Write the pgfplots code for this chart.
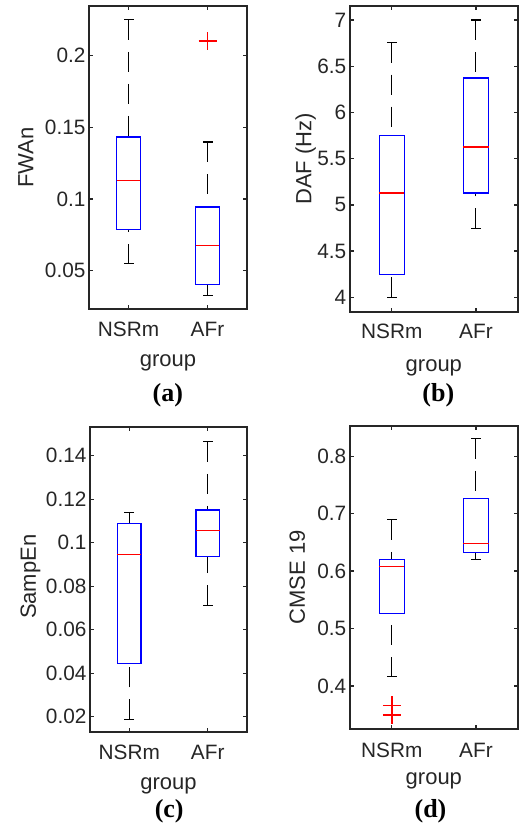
\documentclass[border=0pt]{standalone}
\usepackage{fontspec}
\setmainfont{Liberation Sans}
\newfontfamily\capfont{Liberation Serif}
\usepackage{pgfplots}
\usepgfplotslibrary{statistics}
\pgfplotsset{compat=1.18}
\definecolor{axgray}{RGB}{38,38,38}

% whiskers: dashed line starting at the box (caps are added as marks)
\pgfplotsset{
  boxplot/draw/whisker/.code 2 args={
    \draw[black, line width=1.1pt, dash pattern=on 20pt off 12pt]
      (boxplot cs:#2) -- (boxplot cs:#1);
  },
}

\pgfplotsset{
  mlbox/.style={
    scale only axis,
    xmin=0.5, xmax=2.5,
    xtick={1,2}, xticklabels={NSRm,AFr},
    tick align=inside,
    major tick length=4pt,
    axis line style={axgray, line width=2pt},
    tick style={axgray, line width=1.3pt},
    tick label style={font=\fontsize{20.8}{24}\selectfont, text=axgray},
    label style={font=\fontsize{22}{26}\selectfont, text=axgray},
    scaled y ticks=false,
    /pgf/number format/assume math mode=true,
    clip=false,
    boxplot/draw direction=y,
    boxplot/box extend=0.3,
    boxplot/every box/.style={draw=blue, line width=1.3pt},
    boxplot/every median/.style={draw=red, line width=1.3pt},
  },
  outl/.style={red, mark=+, mark size=9pt, mark options={red, line width=1.8pt, solid}},
  caps/.style={only marks, black, mark=-, mark size=5pt, mark options={black, line width=1.1pt, solid}},
}

\begin{document}
\begin{tikzpicture}
\path[use as bounding box] (0,0) rectangle (526pt,828pt);

% (a)
\begin{axis}[mlbox,
  at={(89pt,519pt)}, anchor=south west, width=158pt, height=303pt,
  ymin=0.0233, ymax=0.2347,
  ytick={0.05,0.1,0.15,0.2}, yticklabels={0.05,0.1,0.15,0.2},
  xticklabel style={anchor=base, yshift=-28pt},
  ylabel={FWAn}, ylabel style={at={(axis description cs:-0.3525,0.5)}, anchor=base},
  xlabel={group}, xlabel style={at={(axis description cs:0.5,-0.1904)}, anchor=base},
]
\addplot[outl, boxplot prepared={draw position=1,
  lower whisker=0.055, lower quartile=0.0787, median=0.1131,
  upper quartile=0.1433, upper whisker=0.2251}] coordinates {};
\addplot[outl, boxplot prepared={draw position=2,
  lower whisker=0.0326, lower quartile=0.0403, median=0.0675,
  upper quartile=0.0945, upper whisker=0.1398}] coordinates {(2,0.2102)};
\addplot[caps] coordinates {(1,0.055) (1,0.2251) (2,0.0326) (2,0.1398)};
\end{axis}

% (b)
\begin{axis}[mlbox,
  at={(349.7pt,515.7pt)}, anchor=south west, width=168.3pt, height=306.6pt,
  ymin=3.838, ymax=7.155,
  ytick={4,4.5,5,5.5,6,6.5,7}, yticklabels={4,4.5,5,5.5,6,6.5,7},
  xticklabel style={anchor=base, yshift=-26pt},
  ylabel={DAF (Hz)}, ylabel style={at={(axis description cs:-0.228,0.5)}, anchor=base},
  xlabel={group}, xlabel style={at={(axis description cs:0.5,-0.1915)}, anchor=base},
]
\addplot[outl, boxplot prepared={draw position=1,
  lower whisker=4.0, lower quartile=4.244, median=5.128,
  upper quartile=5.752, upper whisker=6.755}] coordinates {};
\addplot[outl, boxplot prepared={draw position=2,
  lower whisker=4.746, lower quartile=5.128, median=5.626,
  upper quartile=6.372, upper whisker=7.0}] coordinates {};
\addplot[caps] coordinates {(1,4.0) (1,6.755) (2,4.746) (2,7.0)};
\end{axis}

% (c)
\begin{axis}[mlbox,
  at={(90pt,95.7pt)}, anchor=south west, width=157pt, height=305pt,
  ymin=0.0128, ymax=0.1531,
  ytick={0.02,0.04,0.06,0.08,0.1,0.12,0.14},
  yticklabels={0.02,0.04,0.06,0.08,0.1,0.12,0.14},
  xticklabel style={anchor=base, yshift=-26.7pt},
  ylabel={SampEn}, ylabel style={at={(axis description cs:-0.344,0.51)}, anchor=base},
  xlabel={group}, xlabel style={at={(axis description cs:0.5,-0.187)}, anchor=base},
]
\addplot[outl, boxplot prepared={draw position=1,
  lower whisker=0.0187, lower quartile=0.0445, median=0.0946,
  upper quartile=0.109, upper whisker=0.1138}] coordinates {};
\addplot[outl, boxplot prepared={draw position=2,
  lower whisker=0.0713, lower quartile=0.0937, median=0.1055,
  upper quartile=0.115, upper whisker=0.1464}] coordinates {};
\addplot[caps] coordinates {(1,0.0187) (1,0.1138) (2,0.0713) (2,0.1464)};
\end{axis}

% (d)
\begin{axis}[mlbox,
  at={(349.7pt,99.3pt)}, anchor=south west, width=168.3pt, height=302.4pt,
  ymin=0.3256, ymax=0.852,
  ytick={0.4,0.5,0.6,0.7,0.8}, yticklabels={0.4,0.5,0.6,0.7,0.8},
  xticklabel style={anchor=base, yshift=-28.6pt},
  ylabel={CMSE 19}, ylabel style={at={(axis description cs:-0.267,0.5)}, anchor=base},
  xlabel={group}, xlabel style={at={(axis description cs:0.5,-0.185)}, anchor=base},
]
\addplot[outl, boxplot prepared={draw position=1,
  lower whisker=0.416, lower quartile=0.5265, median=0.6077,
  upper quartile=0.6206, upper whisker=0.689}] coordinates {(1,0.366) (1,0.349)};
\addplot[outl, boxplot prepared={draw position=2,
  lower whisker=0.6206, lower quartile=0.6328, median=0.6478,
  upper quartile=0.7268, upper whisker=0.830}] coordinates {};
\addplot[caps] coordinates {(1,0.416) (1,0.689) (2,0.6206) (2,0.830)};
\end{axis}

\node[font=\capfont\bfseries\fontsize{26}{30}\selectfont, anchor=base] at (167.8pt,426pt) {(a)};
\node[font=\capfont\bfseries\fontsize{26}{30}\selectfont, anchor=base] at (438.3pt,426pt) {(b)};
\node[font=\capfont\bfseries\fontsize{26}{30}\selectfont, anchor=base] at (169.2pt,10.3pt) {(c)};
\node[font=\capfont\bfseries\fontsize{26}{30}\selectfont, anchor=base] at (430.5pt,10.3pt) {(d)};
\end{tikzpicture}
\end{document}
